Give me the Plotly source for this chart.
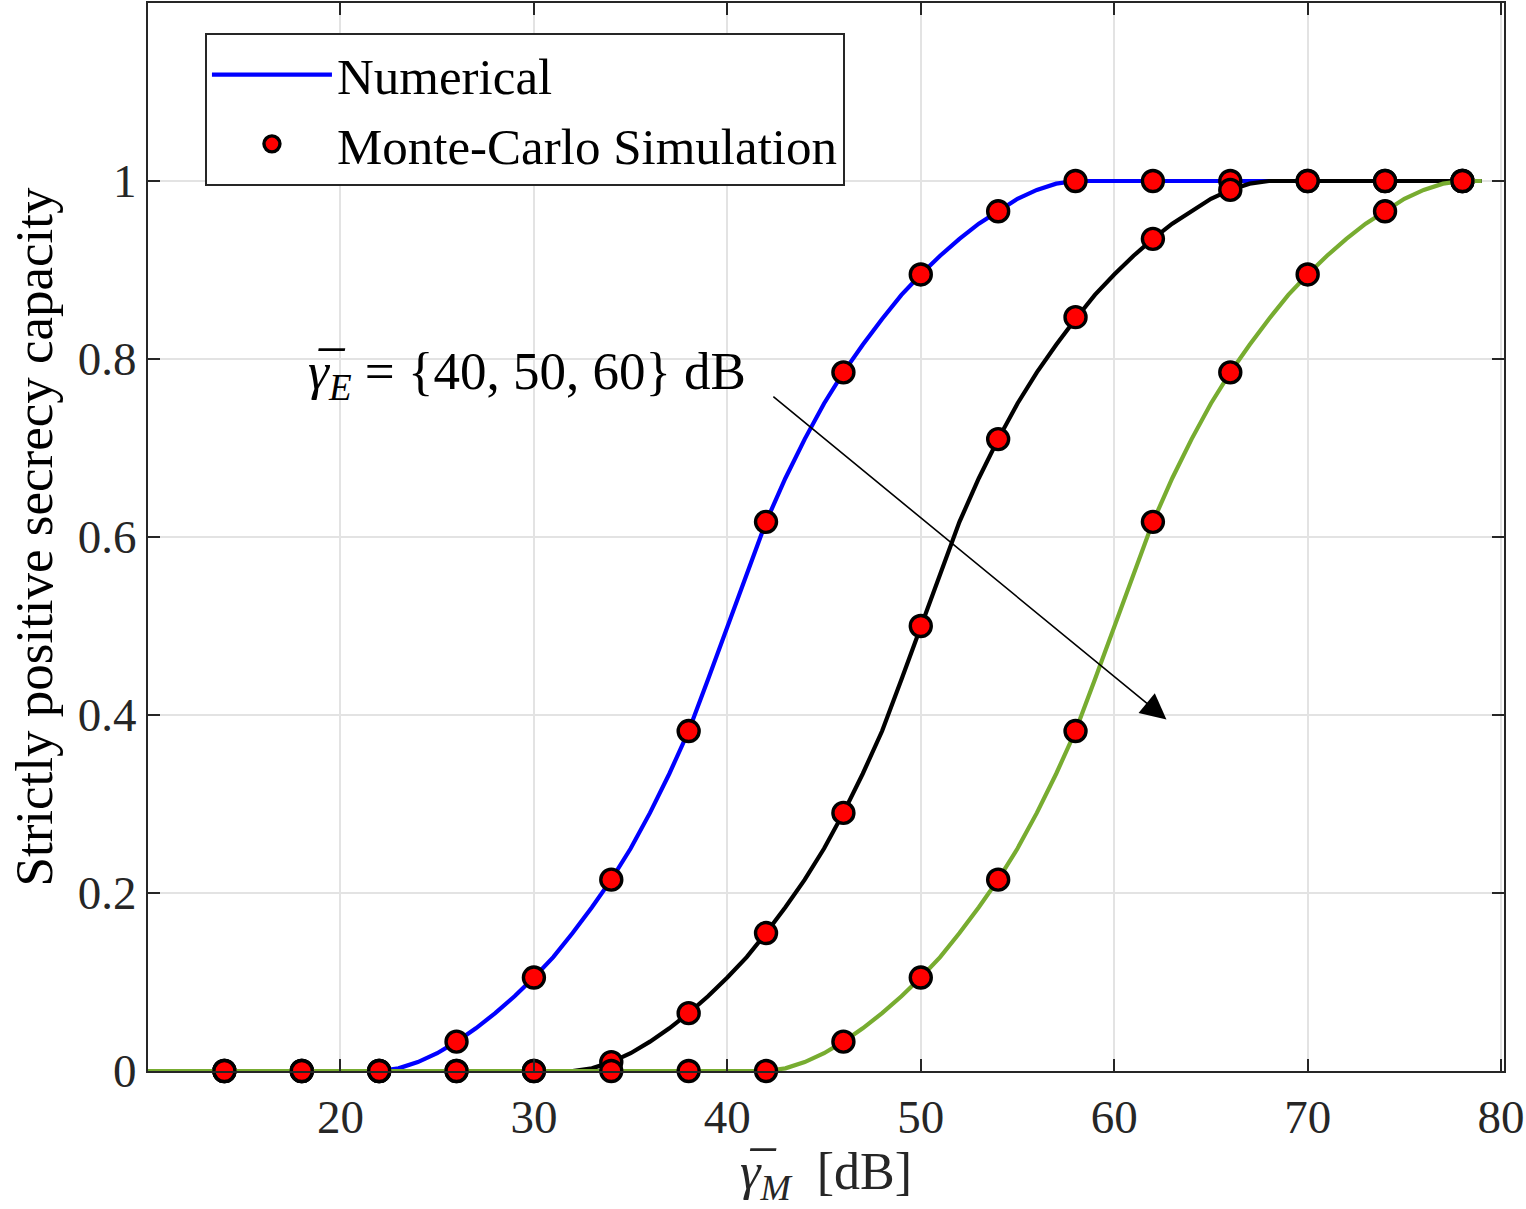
import plotly.graph_objects as go

# ---------------- data ----------------
# Numerical curves (gamma_E = 40, 50, 60 dB)
num40_x = [10, 22, 23, 24, 25, 26, 27, 28, 29, 30, 31, 32, 33, 34, 35, 36, 37, 38, 39, 40,
           41, 42, 43, 44, 45, 46, 47, 48, 49, 50, 51, 52, 53, 54, 55, 56, 57, 58, 79]
num40_y = [0, 0, 0.003, 0.01, 0.02, 0.033, 0.048, 0.065, 0.084, 0.105, 0.128, 0.155, 0.184,
           0.215, 0.25, 0.29, 0.334, 0.382, 0.44, 0.5, 0.56, 0.617, 0.666, 0.71, 0.75, 0.785,
           0.816, 0.845, 0.872, 0.895, 0.916, 0.935, 0.952, 0.966, 0.98, 0.99, 0.997, 1, 1]

num50_x = [10, 32, 33, 34, 35, 36, 37, 38, 39, 40, 41, 42, 43, 44, 45, 46, 47, 48, 49, 50,
           51, 52, 53, 54, 55, 56, 57, 58, 59, 60, 61, 62, 63, 64, 65, 66, 67, 68, 79]
num50_y = [0, 0, 0.003, 0.01, 0.02, 0.033, 0.048, 0.065, 0.084, 0.105, 0.128, 0.155, 0.184,
           0.215, 0.25, 0.29, 0.334, 0.382, 0.44, 0.5, 0.56, 0.617, 0.666, 0.71, 0.75, 0.785,
           0.816, 0.845, 0.872, 0.895, 0.916, 0.935, 0.952, 0.966, 0.98, 0.99, 0.997, 1, 1]

num60_x = [10, 42, 43, 44, 45, 46, 47, 48, 49, 50, 51, 52, 53, 54, 55, 56, 57, 58, 59, 60,
           61, 62, 63, 64, 65, 66, 67, 68, 69, 70, 71, 72, 73, 74, 75, 76, 77, 78, 79]
num60_y = [0, 0, 0.003, 0.01, 0.02, 0.033, 0.048, 0.065, 0.084, 0.105, 0.128, 0.155, 0.184,
           0.215, 0.25, 0.29, 0.334, 0.382, 0.44, 0.5, 0.56, 0.617, 0.666, 0.71, 0.75, 0.785,
           0.816, 0.845, 0.872, 0.895, 0.916, 0.935, 0.952, 0.966, 0.98, 0.99, 0.997, 1, 1]

# Monte-Carlo simulation points
mc_x = [14, 18, 22, 26, 30, 34, 38, 42, 46, 50, 54, 58, 62, 66, 70, 74, 78]
mc40_y = [0, 0, 0, 0.033, 0.105, 0.215, 0.382, 0.617, 0.785, 0.895, 0.966, 1, 1, 1, 1, 1, 1]
mc50_y = [0, 0, 0, 0, 0, 0.01, 0.065, 0.155, 0.29, 0.5, 0.71, 0.847, 0.935, 0.99, 1, 1, 1]
mc60_y = [0, 0, 0, 0, 0, 0, 0, 0, 0.033, 0.105, 0.215, 0.382, 0.617, 0.785, 0.895, 0.966, 1]

x_ticks = [20, 30, 40, 50, 60, 70, 80]
y_ticks = [0, 0.2, 0.4, 0.6, 0.8, 1]
y_tick_text = ["0", "0.2", "0.4", "0.6", "0.8", "1"]

# ---------------- style ----------------
FONT = "Liberation Serif"
TXT = "#262626"
colors = ["#0000FF", "#000000", "#77AC30"]
marker_style = dict(symbol="circle", size=21, color="#FF0000",
                    line=dict(color="#000000", width=3.4))

fig = go.Figure()
series = [(num40_x, num40_y, mc40_y), (num50_x, num50_y, mc50_y), (num60_x, num60_y, mc60_y)]
for i, (lx, ly, my) in enumerate(series):
    fig.add_trace(go.Scatter(x=lx, y=ly, mode="lines",
                             line=dict(color=colors[i], width=4.2),
                             name="Numerical", showlegend=(i == 0),
                             cliponaxis=False, legendrank=1))
    fig.add_trace(go.Scatter(x=mc_x, y=my, mode="markers", marker=marker_style,
                             name="Monte-Carlo Simulation", showlegend=(i == 0),
                             cliponaxis=False, legendrank=2))

# text annotation
fig.add_annotation(x=18.2, y=0.782, xref="x", yref="y",
                   text="<i>γ\u0305</i><sub><i>E</i></sub> = {40, 50, 60} dB",
                   showarrow=False, xanchor="left", yanchor="middle",
                   font=dict(family=FONT, size=53, color="#000000"))
# arrow
fig.add_annotation(x=62.7, y=0.395, ax=42.3, ay=0.759,
                   xref="x", yref="y", axref="x", ayref="y",
                   text="", showarrow=True, arrowhead=2, arrowsize=3.2,
                   arrowwidth=1.6, arrowcolor="#000000")

axis_common = dict(showgrid=True, gridcolor="#E3E3E3", gridwidth=2,
                   showline=True, linecolor=TXT, linewidth=2,
                   ticks="inside", ticklen=12, tickwidth=2, tickcolor=TXT,
                   mirror="ticks", zeroline=False, ticklabeloverflow="allow",
                   tickfont=dict(family=FONT, size=47, color=TXT))

fig.update_layout(
    width=1526, height=1209,
    margin=dict(l=148, r=21, t=1, b=138),
    plot_bgcolor="#FFFFFF", paper_bgcolor="#FFFFFF",
    xaxis=dict(range=[10.05, 80.15], tickvals=x_ticks, ticktext=[str(v) for v in x_ticks],
               ticklabelstandoff=4,
               title=dict(text="<i>γ\u0305</i><sub><i>M</i></sub>  [dB]",
                          font=dict(family=FONT, size=52, color=TXT), standoff=10),
               **axis_common),
    yaxis=dict(range=[0, 1.2], tickvals=y_ticks, ticktext=y_tick_text,
               ticklabelstandoff=0,
               title=dict(text="Strictly positive secrecy capacity",
                          font=dict(family=FONT, size=53, color="#000000"), standoff=8),
               **axis_common),
    legend=dict(x=0.042, y=0.972, xanchor="left", yanchor="top",
                bgcolor="#FFFFFF", bordercolor=TXT, borderwidth=2,
                font=dict(family=FONT, size=51, color="#000000"),
                itemwidth=120, tracegroupgap=0),
    showlegend=True,
)

fig.write_html("out.html")
